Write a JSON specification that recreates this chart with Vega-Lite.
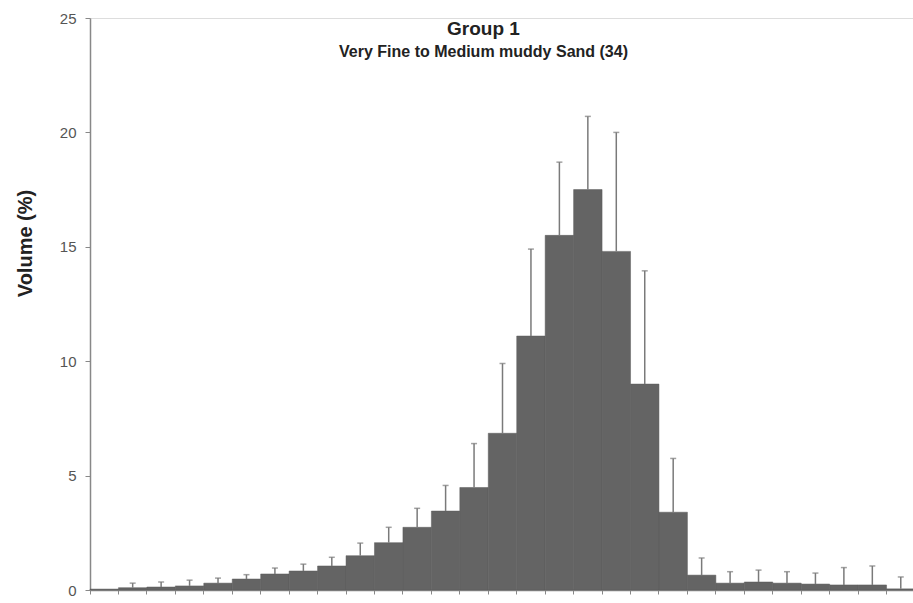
{
  "$schema": "https://vega.github.io/schema/vega-lite/v6.json",
  "width": 825,
  "height": 572,
  "autosize": "none",
  "padding": {"left": 90, "top": 18, "right": 0, "bottom": 13},
  "background": "white",
  "title": {
    "text": "Group 1",
    "subtitle": "Very Fine to Medium muddy Sand (34)",
    "font": "Liberation Sans",
    "fontSize": 19,
    "fontWeight": "bold",
    "color": "#222222",
    "subtitleFont": "Liberation Sans",
    "subtitleFontSize": 16,
    "subtitleFontWeight": "bold",
    "subtitleColor": "#222222",
    "subtitlePadding": 5,
    "anchor": "middle",
    "frame": "group",
    "dx": -19,
    "offset": -49
  },
  "data": {
    "values": [
      {"bin": 0, "v": 0.04, "hi": null},
      {"bin": 1, "v": 0.1, "hi": 0.3},
      {"bin": 2, "v": 0.13, "hi": 0.35},
      {"bin": 3, "v": 0.18, "hi": 0.43},
      {"bin": 4, "v": 0.3, "hi": 0.52},
      {"bin": 5, "v": 0.48, "hi": 0.67},
      {"bin": 6, "v": 0.7, "hi": 0.96},
      {"bin": 7, "v": 0.83, "hi": 1.13},
      {"bin": 8, "v": 1.05, "hi": 1.43},
      {"bin": 9, "v": 1.5, "hi": 2.05},
      {"bin": 10, "v": 2.07, "hi": 2.74},
      {"bin": 11, "v": 2.74, "hi": 3.57},
      {"bin": 12, "v": 3.45, "hi": 4.57},
      {"bin": 13, "v": 4.48, "hi": 6.4},
      {"bin": 14, "v": 6.85, "hi": 9.9},
      {"bin": 15, "v": 11.1, "hi": 14.9},
      {"bin": 16, "v": 15.5, "hi": 18.7},
      {"bin": 17, "v": 17.5, "hi": 20.7},
      {"bin": 18, "v": 14.8, "hi": 20.0},
      {"bin": 19, "v": 9.0, "hi": 13.95},
      {"bin": 20, "v": 3.4, "hi": 5.75},
      {"bin": 21, "v": 0.65, "hi": 1.4},
      {"bin": 22, "v": 0.3, "hi": 0.8},
      {"bin": 23, "v": 0.35, "hi": 0.87},
      {"bin": 24, "v": 0.3, "hi": 0.8},
      {"bin": 25, "v": 0.26, "hi": 0.74},
      {"bin": 26, "v": 0.22, "hi": 0.98},
      {"bin": 27, "v": 0.22, "hi": 1.05},
      {"bin": 28, "v": 0.05, "hi": 0.57}
    ]
  },
  "encoding": {
    "x": {
      "field": "bin",
      "type": "ordinal",
      "scale": {"paddingInner": 0, "paddingOuter": 0},
      "axis": {
        "title": null,
        "labels": false,
        "bandPosition": 0,
        "domainColor": "#888888",
        "domainWidth": 1.5,
        "tickColor": "#888888",
        "tickSize": 4,
        "tickWidth": 1
      }
    }
  },
  "layer": [
    {
      "mark": {"type": "bar", "color": "#646464", "stroke": "#5a5a5a", "strokeWidth": 0.5},
      "encoding": {
        "y": {
          "field": "v",
          "type": "quantitative",
          "scale": {"domain": [0, 25], "nice": false},
          "axis": {
            "title": "Volume (%)",
            "titleFont": "Liberation Sans",
            "titleFontSize": 20,
            "titleFontWeight": "bold",
            "titleColor": "#222222",
            "titleAngle": -90,
            "titleX": -65,
            "titleY": 225,
            "titleAlign": "center",
            "titleBaseline": "middle",
            "values": [0, 5, 10, 15, 20, 25],
            "grid": false,
            "labelFont": "Liberation Sans",
            "labelFontSize": 15,
            "labelColor": "#555555",
            "labelPadding": 9,
            "tickSize": 5,
            "tickColor": "#888888",
            "domainColor": "#888888",
            "domainWidth": 1.5
          }
        }
      }
    },
    {
      "transform": [{"filter": "datum.hi != null"}],
      "mark": {"type": "rule", "color": "#7a7a7a", "strokeWidth": 1.5},
      "encoding": {
        "y": {"field": "v", "type": "quantitative"},
        "y2": {"field": "hi"}
      }
    },
    {
      "transform": [{"filter": "datum.hi != null"}],
      "mark": {"type": "tick", "color": "#7a7a7a", "size": 6, "thickness": 1.5},
      "encoding": {
        "y": {"field": "hi", "type": "quantitative"}
      }
    }
  ]
}
